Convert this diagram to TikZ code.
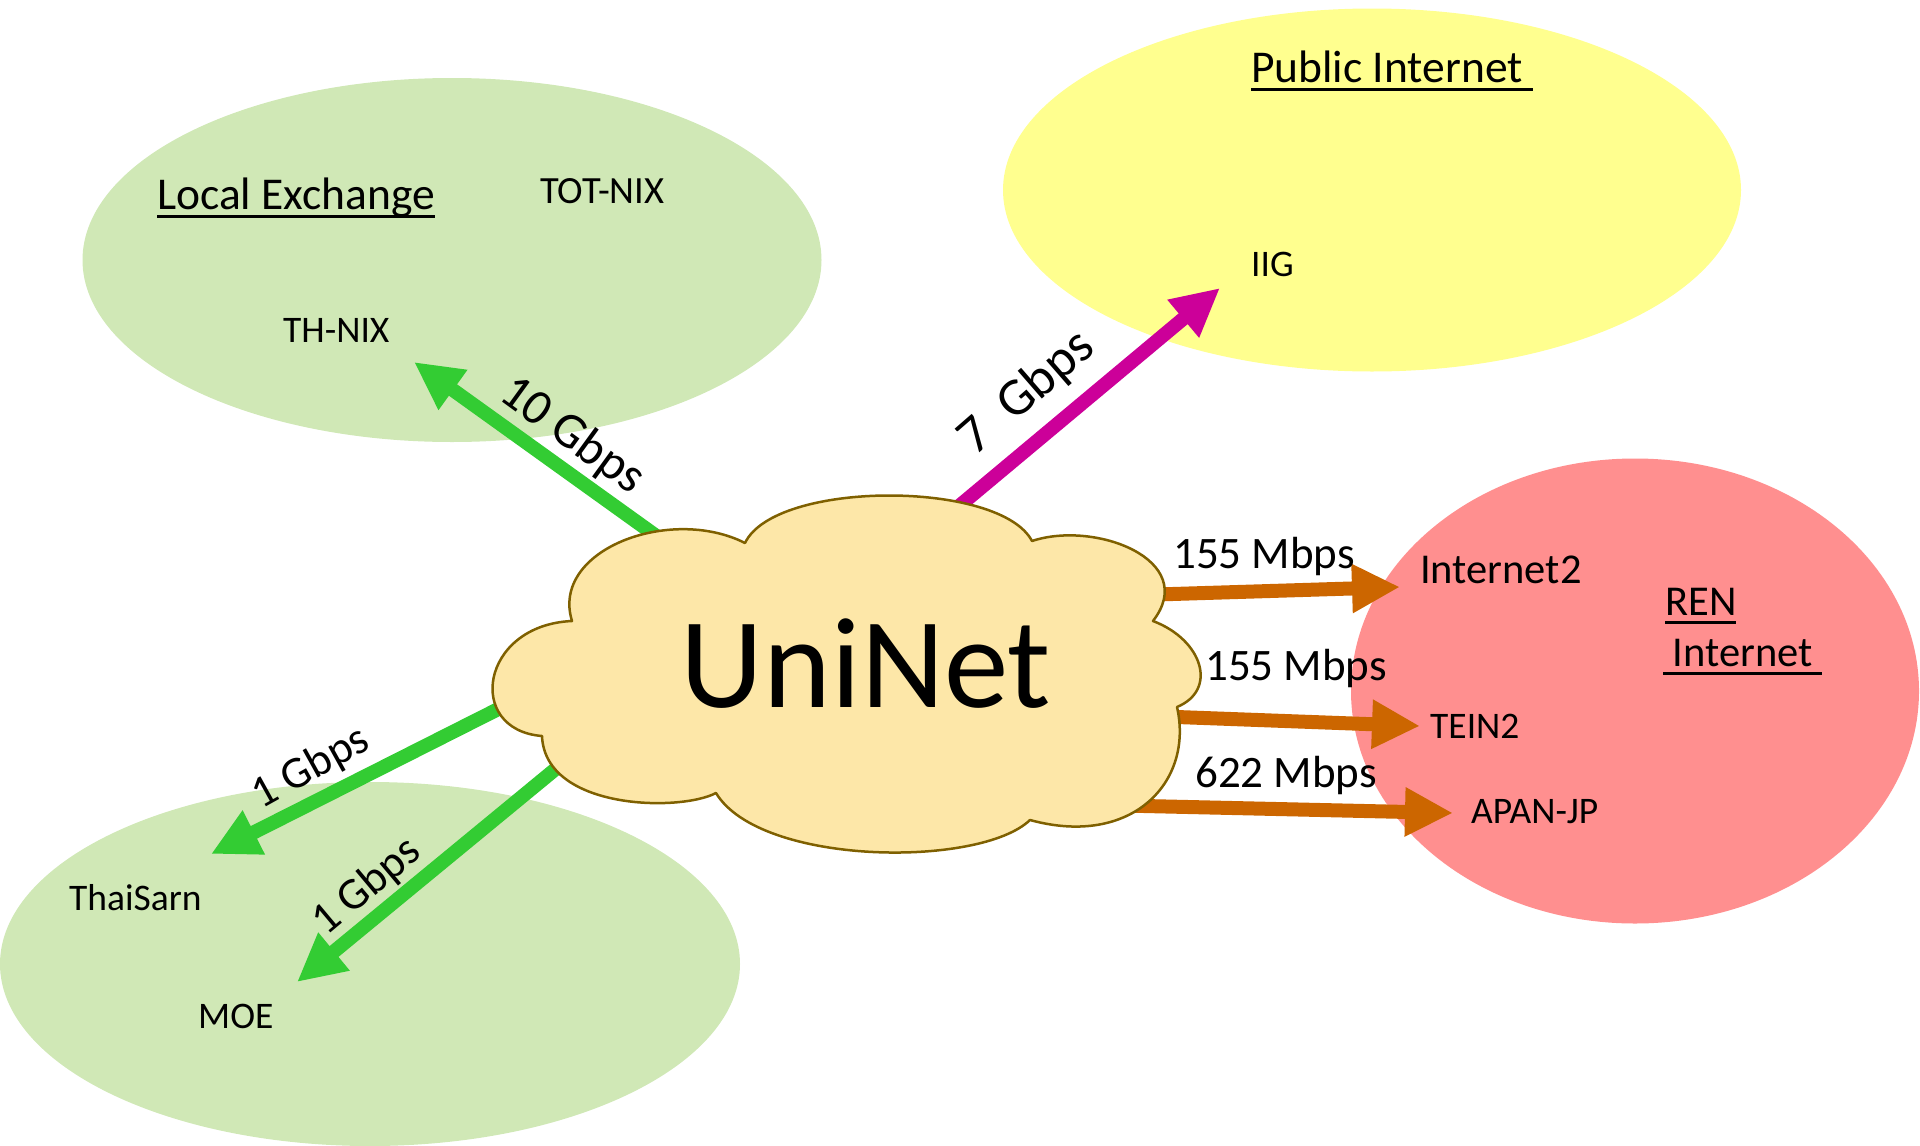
\documentclass[tikz,border=0pt]{standalone}
\usepackage{fontspec}
\setmainfont{Carlito}
\usetikzlibrary{arrows.meta,shapes.geometric}
\definecolor{lgreen}{HTML}{D0E8B6}
\definecolor{lyellow}{HTML}{FFFF8F}
\definecolor{lpink}{HTML}{FF8F8F}
\definecolor{cloudfill}{HTML}{FDE7A8}
\definecolor{cloudline}{HTML}{7F6000}
\definecolor{agreen}{HTML}{33CC33}
\definecolor{amag}{HTML}{CC0099}
\definecolor{aorange}{HTML}{CC6600}
\newsavebox\myulbox
\newcommand\myul[1]{\sbox\myulbox{#1}\rlap{\rule[-0.2em]{\wd\myulbox}{0.065em}}\usebox\myulbox}
\begin{document}
\begin{tikzpicture}[x=1pt,y=-1pt,
  zone/.style={ellipse, draw=none, inner sep=0pt},
  lbl/.style={anchor=base west, inner sep=0pt, font=\fontsize{37.5}{42}\selectfont},
  biglbl/.style={anchor=base west, inner sep=0pt, font=\fontsize{42.5}{48}\selectfont},
  headlbl/.style={anchor=base west, inner sep=0pt, font=\fontsize{45.5}{50}\selectfont},
  ratelbl/.style={anchor=base west, inner sep=0pt, font=\fontsize{45}{50}\selectfont},
  rotlbl/.style={anchor=center, inner sep=0pt, font=\fontsize{45}{50}\selectfont},
  link/.style={line width=14pt, -{Triangle[length=48pt,width=46pt]}},
]
\useasboundingbox (0,0) rectangle (1920,1146);

% regions
\node[zone, fill=lgreen, minimum width=739pt, minimum height=364pt] (lex) at (452,260) {};
\node[zone, fill=lyellow, minimum width=738pt, minimum height=363pt] (pub) at (1372,190) {};
\node[zone, fill=lpink, minimum width=568pt, minimum height=465pt] (ren) at (1635,691) {};
\node[zone, fill=lgreen, minimum width=740pt, minimum height=364pt] (dom) at (370,964) {};

% texts
\node[headlbl] (lexT) at (157,209) {\myul{Local Exchange}};
\node[lbl, font=\fontsize{38.5}{42}\selectfont] (totnix) at (540,203) {TOT-NIX};
\node[lbl] (thnix) at (283,342) {TH-NIX};
\node[headlbl] (pubT) at (1251,82) {\myul{Public Internet\ }};
\node[lbl] (iig) at (1251,276) {IIG};
\node[biglbl] (inet2) at (1420,583) {Internet2};
\node[biglbl] (renT) at (1665,615) {\myul{REN}};
\node[biglbl] (renT2) at (1663,666) {\myul{\ Internet\ }};
\node[lbl] (tein) at (1430,738) {TEIN2};
\node[lbl] (apan) at (1471,823) {APAN-JP};
\node[lbl] (thaisarn) at (69,910) {ThaiSarn};
\node[lbl] (moe) at (198,1028) {MOE};

% link end points
\coordinate (s-thnix) at (680,553);   \coordinate (t-thnix) at (414,362);
\coordinate (s-iig) at (940,522);     \coordinate (t-iig) at (1220,288);
\coordinate (s-thai) at (530,693);    \coordinate (t-thai) at (211,854);
\coordinate (s-moe) at (575,753);     \coordinate (t-moe) at (297,982);
\coordinate (s-inet2) at (1140,595);  \coordinate (t-inet2) at (1400,587);
\coordinate (s-tein) at (1150,716);   \coordinate (t-tein) at (1420,726);
\coordinate (s-apan) at (1100,805);   \coordinate (t-apan) at (1453,813);

\draw[link, agreen] (s-thnix) -- (t-thnix);
\draw[link, amag] (s-iig) -- (t-iig);
\draw[link, agreen] (s-thai) -- (t-thai);
\draw[link, agreen] (s-moe) -- (t-moe);
\draw[link, aorange] (s-inet2) -- (t-inet2);
\draw[link, aorange] (s-tein) -- (t-tein);
\draw[link, aorange] (s-apan) -- (t-apan);

% cloud
\draw[fill=cloudfill, draw=cloudline, line width=2.5pt, line join=round]
  (745,543) .. controls (775,480) and (1000,480) .. (1032,541)
  .. controls (1095,520) and (1200,560) .. (1153,621)
  .. controls (1203,640) and (1218,690) .. (1177,707)
  .. controls (1194,782) and (1132,848) .. (1030,820)
  .. controls (980,868) and (760,866) .. (716,793)
  .. controls (680,812) and (545,810) .. (542,736)
  .. controls (465,730) and (480,625) .. (572,621)
  .. controls (550,550) and (670,505) .. (745,543) -- cycle;
\node[anchor=base, inner sep=0pt, font=\fontsize{129}{140}\selectfont] (uninet) at (866,707) {UniNet};

% rates
\node[rotlbl, rotate=-36, font=\fontsize{50}{56}\selectfont] (r-thnix) at (572,436) {10 Gbps};
\node[rotlbl, rotate=41, font=\fontsize{53}{58}\selectfont] (r-iig) at (1027,393) {7\ \ Gbps};
\node[rotlbl, rotate=29] (r-thai) at (311,768) {1 Gbps};
\node[rotlbl, rotate=40] (r-moe) at (367,887) {1 Gbps};
\node[ratelbl] (r-inet2) at (1173,568) {155 Mbps};
\node[ratelbl] (r-tein) at (1205,680) {155 Mbps};
\node[ratelbl] (r-apan) at (1195,787) {622 Mbps};
\end{tikzpicture}
\end{document}
